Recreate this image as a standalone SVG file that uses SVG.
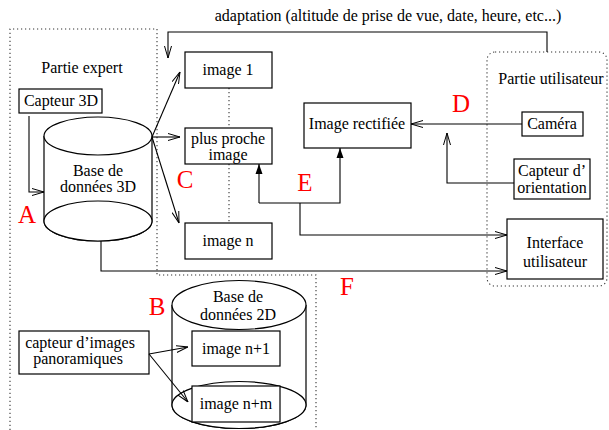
<svg xmlns="http://www.w3.org/2000/svg" width="609" height="430" viewBox="0 0 609 430">
<defs>
<style>
text{font-family:"Liberation Serif","Times New Roman",serif;font-size:16px;fill:#000;text-anchor:middle}
.lbl{fill:#ff0000;font-size:25px}
.box{fill:#fff;stroke:#000;stroke-width:1.2}
.cyl{fill:#fff;stroke:#000;stroke-width:1.2}
.ln{fill:none;stroke:#000;stroke-width:1.1}
.dot{fill:none;stroke:#333;stroke-width:1.1;stroke-dasharray:1.2 2.8}
</style>
<marker id="open" viewBox="0 0 12 8" refX="12" refY="4" markerWidth="12" markerHeight="8" markerUnits="userSpaceOnUse" orient="auto">
<path d="M0,0.5 L12,4 L0,7.5" fill="none" stroke="#000" stroke-width="1"/>
</marker>
<marker id="fill" viewBox="0 0 10 8" refX="10" refY="4" markerWidth="10" markerHeight="8" markerUnits="userSpaceOnUse" orient="auto">
<path d="M0,0.5 L10,4 L0,7.5 Z" fill="#000"/>
</marker>
</defs>
<rect width="609" height="430" fill="#fff"/>

<g id="regions">
<polyline class="dot" points="10,430 10,29 157,29 157,275 316,275 316,430"/>
<rect class="dot" x="487" y="52" width="120" height="234" rx="8"/>
<text x="82" y="73">Partie expert</text>
<text x="551" y="84">Partie utilisateur</text>
</g>

<g id="dotted-links">
<line class="dot" x1="229" y1="88" x2="229" y2="128"/>
<line class="dot" x1="229" y1="164" x2="229" y2="223"/>
<line class="dot" x1="233" y1="366" x2="233" y2="386"/>
</g>

<g id="db3d">
<path class="cyl" d="M44,136 L44,221 A54,20 0 0 0 152,221 L152,136"/>
<ellipse class="cyl" cx="98" cy="221" rx="54" ry="20" fill="none"/>
<ellipse class="cyl" cx="98" cy="136" rx="54" ry="19"/>
<text x="98" y="176">Base de</text>
<text x="98" y="192">données 3D</text>
</g>

<g id="db2d">
<path class="cyl" d="M172,305 L172,405 A67,23.5 0 0 0 306,405 L306,305"/>
<ellipse class="cyl" cx="239" cy="405" rx="67" ry="23.5"/>
<ellipse class="cyl" cx="239" cy="305" rx="67" ry="24.5"/>
<text x="238" y="302">Base de</text>
<text x="238" y="320">données 2D</text>
</g>

<g id="capteur3d"><rect class="box" x="19" y="89" width="83" height="24"/><text x="61" y="106">Capteur 3D</text></g>
<g id="image1"><rect class="box" x="185" y="52" width="87" height="36"/><text x="228" y="75">image 1</text></g>
<g id="plusproche"><rect class="box" x="185" y="128" width="87" height="36"/><text x="228" y="144">plus proche</text><text x="228" y="160">image</text></g>
<g id="imagen"><rect class="box" x="185" y="223" width="87" height="36"/><text x="228" y="246">image n</text></g>
<g id="imagerect"><rect class="box" x="304" y="103" width="107" height="45"/><text x="357" y="129">Image rectifiée</text></g>
<g id="camera"><rect class="box" x="522" y="112" width="61" height="24"/><text x="552" y="129">Caméra</text></g>
<g id="capteurorient"><rect class="box" x="514" y="159" width="76" height="40"/><text x="552" y="176">Capteur d’</text><text x="552" y="193">orientation</text></g>
<g id="interface"><rect class="box" x="507" y="219" width="96" height="60"/><text x="555" y="248">Interface</text><text x="555" y="267">utilisateur</text></g>
<g id="capteurpano"><rect class="box" x="19" y="331" width="130" height="43"/><text x="80" y="348">capteur d’images</text><text x="78" y="364">panoramiques</text></g>
<g id="imagen1"><rect class="box" x="192" y="331" width="88" height="35"/><text x="236" y="354">image n+1</text></g>
<g id="imagenm"><rect class="box" x="192" y="386" width="88" height="36"/><text x="236" y="409">image n+m</text></g>

<g id="connectors">
<polyline class="ln" points="547,52 547,32 168,32 168,58" marker-end="url(#open)"/>
<polyline class="ln" points="29,116 29,192 44,192" marker-end="url(#open)"/>
<line class="ln" x1="152" y1="137" x2="180" y2="72" marker-end="url(#open)"/>
<line class="ln" x1="152" y1="137" x2="180" y2="137" marker-end="url(#open)"/>
<line class="ln" x1="152" y1="137" x2="179" y2="223" marker-end="url(#open)"/>
<line class="ln" x1="522" y1="124" x2="411" y2="124" marker-end="url(#open)"/>
<polyline class="ln" points="514,183 447,183 447,133" marker-end="url(#open)"/>
<polyline class="ln" points="259,203 259,164" marker-end="url(#fill)"/>
<polyline class="ln" points="259,203 340,203 340,148" marker-end="url(#fill)"/>
<polyline class="ln" points="300,203 300,235 507,235" marker-end="url(#open)"/>
<polyline class="ln" points="101,241 101,271 507,271" marker-end="url(#open)"/>
<line class="ln" x1="149" y1="354" x2="188" y2="347" marker-end="url(#open)"/>
<line class="ln" x1="149" y1="354" x2="188" y2="402" marker-end="url(#open)"/>
<text x="388" y="21">adaptation (altitude de prise de vue, date, heure, etc...)</text>
</g>

<g id="labels">
<text class="lbl" x="27" y="223">A</text>
<text class="lbl" x="157" y="315">B</text>
<text class="lbl" x="185" y="188">C</text>
<text class="lbl" x="461" y="112">D</text>
<text class="lbl" x="305" y="191">E</text>
<text class="lbl" x="347" y="295">F</text>
</g>
</svg>
